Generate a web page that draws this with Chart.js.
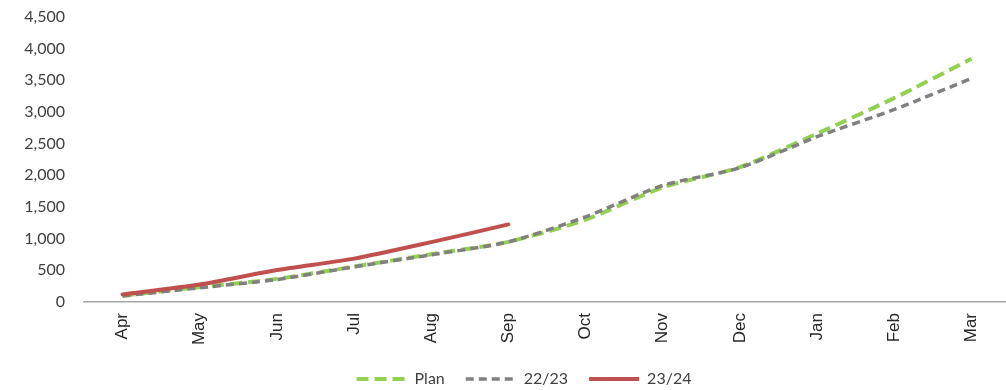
<!DOCTYPE html>
<html>
<head>
<meta charset="utf-8">
<script src="https://cdn.jsdelivr.net/npm/chart.js@4.4.1/dist/chart.umd.min.js"></script>
<style>
  html, body { margin: 0; padding: 0; background: #ffffff; overflow: hidden; }
  #wrap { width: 1010px; height: 390px; position: relative; }
</style>
</head>
<body>
<div id="wrap"><canvas id="chart"></canvas></div>
<script>
// Cumulative monthly totals for the financial year
const months = ['Apr', 'May', 'Jun', 'Jul', 'Aug', 'Sep', 'Oct', 'Nov', 'Dec', 'Jan', 'Feb', 'Mar'];
const plan = [100, 235, 365, 560, 755, 950, 1300, 1810, 2130, 2660, 3220, 3840];
const fy2223 = [95, 225, 355, 555, 745, 950, 1345, 1840, 2120, 2610, 3040, 3530];
const fy2324 = [120, 275, 505, 685, 945, 1225];
const yTicks = [0, 500, 1000, 1500, 2000, 2500, 3000, 3500, 4000, 4500];

Chart.defaults.font.family = 'Lato, "Open Sans", sans-serif';
Chart.defaults.color = '#404040';

// Legend entries keep the series' own dash pattern and width, in series order
function legendLabels(chart) {
  const items = Chart.defaults.plugins.legend.labels.generateLabels(chart);
  return items
    .map(item => {
      const ds = chart.data.datasets[item.datasetIndex];
      item.lineDash = ds.borderDash || [];
      item.strokeStyle = ds.borderColor;
      item.lineWidth = ds.borderWidth;
      item.lineCap = 'butt';
      return item;
    })
    .sort((a, b) => a.datasetIndex - b.datasetIndex);
}

// Nudge the legend row a little to the right of centre
const legendShift = {
  id: 'legendShift',
  afterLayout(chart, args, opts) {
    if (chart.legend) {
      chart.legend.left += opts.dx;
      chart.legend.right += opts.dx;
    }
  }
};

new Chart(document.getElementById('chart'), {
  type: 'line',
  plugins: [legendShift],
  data: {
    labels: months,
    datasets: [
      {
        label: 'Plan',
        data: plan,
        borderColor: '#92D050',
        backgroundColor: '#92D050',
        borderWidth: 4,
        borderDash: [12, 6],
        pointRadius: 0,
        tension: 0.25,
        order: 3
      },
      {
        label: '22/23',
        data: fy2223,
        borderColor: '#808080',
        backgroundColor: '#808080',
        borderWidth: 3.5,
        borderDash: [8, 5],
        pointRadius: 0,
        tension: 0.25,
        order: 2
      },
      {
        label: '23/24',
        data: fy2324,
        borderColor: '#C0504D',
        backgroundColor: '#C0504D',
        borderWidth: 4,
        pointRadius: 0,
        tension: 0.25,
        borderCapStyle: 'round',
        order: 1
      }
    ]
  },
  options: {
    responsive: true,
    maintainAspectRatio: false,
    animation: false,
    layout: { padding: { left: 0, right: 0, top: 0, bottom: -7 } },
    plugins: {
      tooltip: { enabled: false },
      legendShift: { dx: 19 },
      legend: {
        position: 'bottom',
        labels: {
          usePointStyle: true,
          pointStyle: 'line',
          pointStyleWidth: 50,
          boxHeight: 4,
          padding: 21,
          color: '#404040',
          font: { size: 16 },
          generateLabels: legendLabels
        }
      }
    },
    scales: {
      x: {
        offset: true,
        grid: { display: false, drawTicks: false },
        border: { display: true, color: '#a6a6a6', width: 1.5 },
        ticks: {
          minRotation: 90,
          maxRotation: 90,
          padding: 11,
          color: '#262626',
          font: { family: '"Liberation Sans", Arial, sans-serif', size: 17 }
        },
        afterFit: (scale) => {
          scale.height = 48;
          scale.paddingLeft = 0;
          scale.paddingRight = 0;
        }
      },
      y: {
        min: 0,
        max: 4500,
        grid: { display: false, drawTicks: false },
        border: { display: false },
        afterBuildTicks: (scale) => { scale.ticks = yTicks.map(v => ({ value: v })); },
        ticks: {
          padding: 19,
          color: '#404040',
          font: { size: 16 },
          callback: (v) => v.toLocaleString('en-US')
        },
        afterFit: (scale) => {
          scale.width = 84;
          scale.paddingTop = 17;
          scale.paddingBottom = 0;
        }
      }
    }
  }
});
</script>
</body>
</html>
